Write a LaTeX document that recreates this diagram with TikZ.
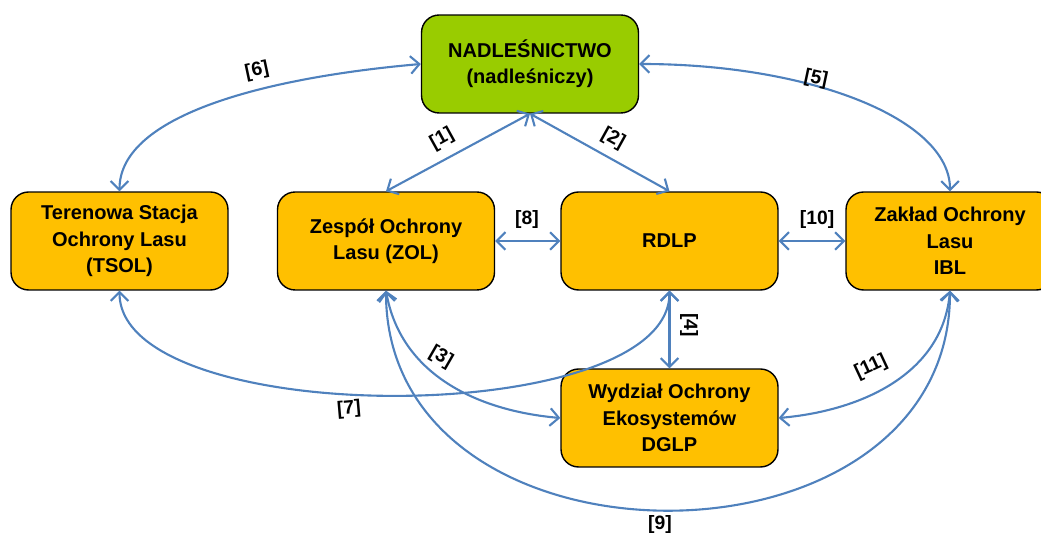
\documentclass[tikz,border=0pt]{standalone}
\usepackage{fontspec}
\setmainfont{Liberation Sans}
\usetikzlibrary{arrows.meta}
\definecolor{boxgreen}{HTML}{99CC00}
\definecolor{boxorange}{HTML}{FFC000}
\definecolor{linkblue}{HTML}{4F81BD}
\tikzset{
  unit/.style={draw=black, line width=0.8pt, rounded corners=10pt, fill=boxorange,
    minimum width=4.34cm, minimum height=1.96cm, align=center,
    font=\fontsize{11.4}{15}\selectfont\bfseries},
  head/.style={unit, fill=boxgreen},
  link/.style={draw=linkblue, line width=1.2pt,
    {Straight Barb[length=5pt,width=10pt]}-{Straight Barb[length=5pt,width=10pt]}},
  num/.style={font=\fontsize{11}{13}\selectfont\bfseries, inner sep=1pt}
}
\begin{document}
\begin{tikzpicture}[x=0.02cm, y=0.02cm]
      \useasboundingbox (0,0) rectangle (1041,-536);
      \node[head] (nad) at (530,-64) {NADLEŚNICTWO\\(nadleśniczy)};
      \node[unit] (tsol) at (119.5,-241) {Terenowa Stacja\\Ochrony Lasu\\(TSOL)};
      \node[unit] (zol) at (386,-241) {Zespół Ochrony\\Lasu (ZOL)};
      \node[unit] (rdlp) at (669.5,-241) {RDLP};
      \node[unit, minimum width=4.16cm] (zak) at (950,-241) {Zakład Ochrony\\Lasu\\IBL};
      \node[unit] (wyd) at (669.5,-418) {Wydział Ochrony\\Ekosystemów\\DGLP};
      \begin{scope}[link]
        \draw (nad.south) to (zol.north);
        \draw (nad.south) to (rdlp.north);
        \draw (zol.south) to[out=-80, in=175] (wyd.west);
        \draw (rdlp.south) to (wyd.north);
        \draw (nad.east) to[out=0, in=90, out looseness=1.3, in looseness=0.55] (zak.north);
        \draw (nad.west) to[out=185, in=90, out looseness=1.2, in looseness=0.6] (tsol.north);
        \draw (tsol.south) to[out=-90, in=-90, looseness=0.65] (rdlp.south);
        \draw (zol.east) to (rdlp.west);
        \draw (zol.south) to[out=-90, in=-90, looseness=1.33] (zak.south);
        \draw (rdlp.east) to (zak.west);
        \draw (zak.south) to[out=-95, in=5] (wyd.east);
      \end{scope}
      \node[num, rotate=29] (n1) at (442,-139) {[1]};
      \node[num, rotate=-29] (n2) at (613,-139) {[2]};
      \node[num, rotate=-30] (n3) at (441,-357) {[3]};
      \node[num, rotate=-90] (n4) at (689,-325) {[4]};
      \node[num, rotate=-12] (n5) at (816,-79) {[5]};
      \node[num, rotate=12] (n6) at (257,-71) {[6]};
      \node[num, rotate=5] (n7) at (349,-409) {[7]};
      \node[num] (n8) at (527,-220) {[8]};
      \node[num] (n9) at (660,-525) {[9]};
      \node[num] (n10) at (817,-220) {[10]};
      \node[num, rotate=25] (n11) at (871,-367) {[11]};
    \end{tikzpicture}
\end{document}
